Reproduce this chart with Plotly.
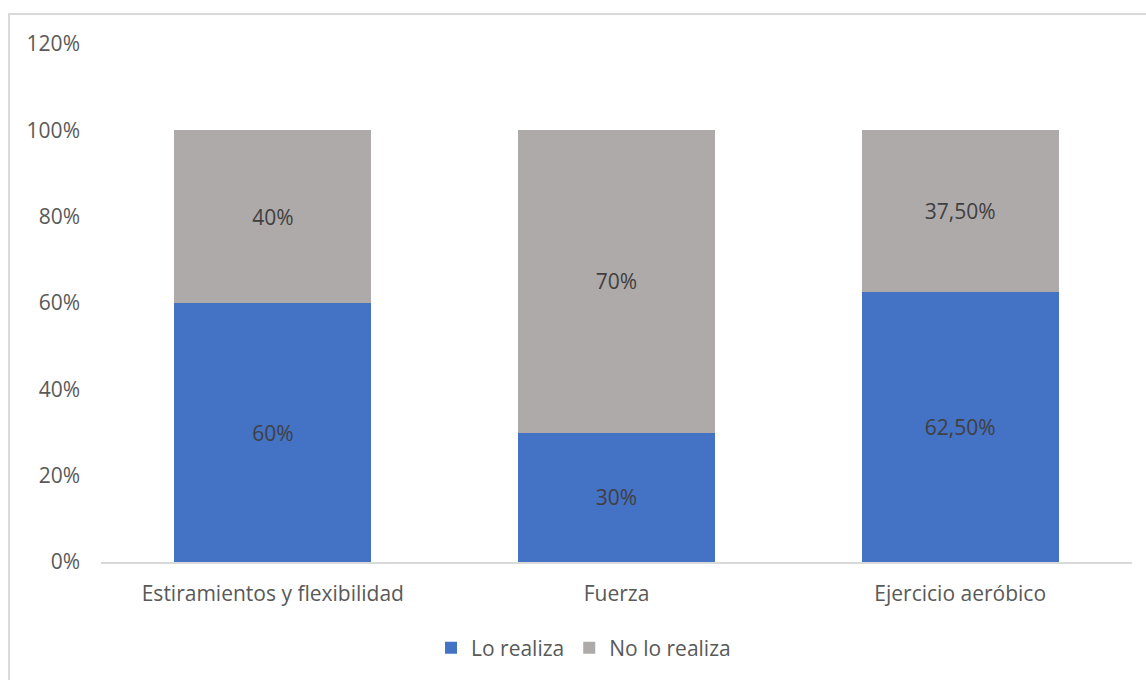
import plotly.graph_objects as go

categories = ["Estiramientos y flexibilidad", "Fuerza", "Ejercicio aeróbico"]
lo_realiza = [0.60, 0.30, 0.625]
no_lo_realiza = [0.40, 0.70, 0.375]
lo_text = ["60%", "30%", "62,50%"]
no_text = ["40%", "70%", "37,50%"]
tick_vals = [0, 0.2, 0.4, 0.6, 0.8, 1.0, 1.2]
tick_text = ["0%", "20%", "40%", "60%", "80%", "100%", "120%"]

FONT = "'Open Sans', 'Noto Sans', sans-serif"
FS = 21

fig = go.Figure()
fig.add_trace(go.Bar(
    x=categories, y=lo_realiza, name="Lo realiza",
    marker=dict(color="#4472C4", line=dict(width=0)),
    text=lo_text, textposition="inside", insidetextanchor="middle",
    textfont=dict(color="#404040", size=FS, family=FONT),
))
fig.add_trace(go.Bar(
    x=categories, y=no_lo_realiza, name="No lo realiza",
    marker=dict(color="#AEAAAA", line=dict(width=0)),
    text=no_text, textposition="inside", insidetextanchor="middle",
    textfont=dict(color="#404040", size=FS, family=FONT),
))

fig.update_layout(
    barmode="stack",
    bargap=0.427,
    width=1146, height=680,
    margin=dict(l=101, r=14, t=44, b=117),
    paper_bgcolor="white", plot_bgcolor="white",
    font=dict(family=FONT, color="#595959", size=FS),
    uniformtext=dict(mode="show", minsize=10),
    legend=dict(orientation="h", x=0.468, xanchor="center", y=-0.164, yanchor="middle",
                font=dict(size=FS, color="#595959"), traceorder="normal",
                itemwidth=30),
    shapes=[dict(type="rect", xref="paper", yref="paper",
                 x0=-0.0892, x1=1.5, y0=-1, y1=1.0578,
                 line=dict(color="#D9D9D9", width=2), fillcolor="rgba(0,0,0,0)", layer="below")],
)
fig.update_yaxes(range=[0, 1.2], tickvals=tick_vals, ticktext=tick_text, showgrid=False,
                 zeroline=False, showline=False, ticks="", ticklabelstandoff=20,
                 tickfont=dict(size=FS, color="#595959"))
fig.update_xaxes(showgrid=False, showline=True, linecolor="#D9D9D9", linewidth=2, ticks="",
                 ticklabelstandoff=12, tickfont=dict(size=FS, color="#595959"))

fig.write_html("out.html")
